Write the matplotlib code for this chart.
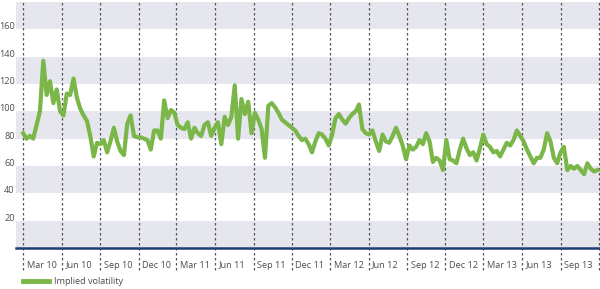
import matplotlib
matplotlib.use("Agg")
import matplotlib.pyplot as plt
import matplotlib.transforms as mtransforms
import pandas as pd
import numpy as np

plt.rcParams['font.family'] = ['Open Sans', 'DejaVu Sans']

# ---- data -------------------------------------------------------------
start_date = "2010-03-01"
step = "8D"
implied_vol = [
    84, 80, 82, 80, 90, 100, 137, 112, 122, 106,
    116, 100, 97, 113, 112, 124, 110, 102, 97, 93,
    82, 67, 77, 76, 79, 70, 78, 88, 78, 71,
    68, 91, 97, 82, 81, 81, 80, 79, 72, 86,
    86, 80, 108, 95, 101, 99, 90, 88, 87, 92,
    80, 88, 84, 82, 90, 92, 82, 88, 92, 76,
    96, 90, 96, 119, 80, 109, 98, 107, 84, 99,
    94, 87, 66, 104, 106, 103, 99, 94, 92, 90,
    88, 86, 82, 79, 80, 76, 70, 78, 84, 83,
    80, 75, 83, 95, 98, 94, 91, 95, 98, 100,
    105, 87, 84, 83, 86, 78, 71, 83, 78, 77,
    82, 88, 82, 75, 65, 75, 72, 74, 79, 76,
    84, 78, 63, 66, 64, 57, 79, 65, 64, 62,
    72, 80, 73, 68, 70, 64, 73, 83, 76, 74,
    70, 71, 67, 72, 77, 75, 79, 86, 82, 78,
    72, 67, 62, 66, 66, 72, 84, 78, 66, 62,
    70, 74, 57, 60, 58, 60, 57, 54, 62, 58,
    56, 57,
]
series_label = "Implied volatility"
tick_dates = ["2010-03-01", "2010-06-01", "2010-09-01", "2010-12-01",
              "2011-03-01", "2011-06-01", "2011-09-01", "2011-12-01",
              "2012-03-01", "2012-06-01", "2012-09-01", "2012-12-01",
              "2013-03-01", "2013-06-01", "2013-09-01", "2013-12-01"]
tick_labels = ["Mar 10", "Jun 10", "Sep 10", "Dec 10",
               "Mar 11", "Jun 11", "Sep 11", "Dec 11",
               "Mar 12", "Jun 12", "Sep 12", "Dec 12",
               "Mar 13", "Jun 13", "Sep 13", ""]
y_ticks = [20, 40, 60, 80, 100, 120, 140, 160]

# ---- figure -----------------------------------------------------------
W, H, DPI = 600, 289, 100
fig = plt.figure(figsize=(W / DPI, H / DPI), dpi=DPI)
ax = fig.add_axes([16 / W, 1 - 248 / H, 584 / W, 246 / H])

dates = pd.date_range(start_date, periods=len(implied_vol), freq=step)
tdates = pd.to_datetime(tick_dates)

band_color = "#e6e6ef"
for lo in range(0, 180, 40):
    ax.axhspan(lo, lo + 20, color=band_color, lw=0, zorder=0)

for d in tdates:
    ax.axvline(d, ymin=-0.09, ymax=1, color="#555555", lw=0.9,
               ls=(0, (2, 2)), clip_on=False, zorder=1)

line, = ax.plot(dates, implied_vol, color="#7ab648", lw=3.0,
                solid_joinstyle="round", zorder=3, label=series_label)

ax.set_xlim(pd.Timestamp("2010-02-12"), pd.Timestamp("2013-12-04"))
ax.set_ylim(0, 180)

FS = 6.6
ax.set_yticks(y_ticks)
ax.set_yticklabels([str(v) for v in y_ticks])
ax.tick_params(axis="y", length=0, pad=1, labelsize=FS, labelcolor="#4d4d4d")
for lab in ax.get_yticklabels():
    lab.set_transform(lab.get_transform() +
                      mtransforms.ScaledTranslation(0, 2.5 / 72, fig.dpi_scale_trans))

ax.set_xticks(tdates)
ax.set_xticklabels(tick_labels)
ax.tick_params(axis="x", length=0, pad=9, labelsize=FS, labelcolor="#4d4d4d")
for lab in ax.get_xticklabels():
    lab.set_horizontalalignment("left")
    lab.set_transform(lab.get_transform() +
                      mtransforms.ScaledTranslation(2.5 / 72, 0, fig.dpi_scale_trans))

for s in ["left", "right", "top"]:
    ax.spines[s].set_visible(False)
ax.spines["bottom"].set_color("#1c3f73")
ax.spines["bottom"].set_linewidth(1.8)
ax.spines["bottom"].set_zorder(4)
ax.grid(False)

fig.legend(handles=[line], loc="center left",
           bbox_to_anchor=(23 / W, 1 - 282 / H), frameon=False,
           fontsize=FS, handlelength=2.8, handletextpad=0.6,
           borderpad=0, borderaxespad=0, labelcolor="#4d4d4d")
for h in fig.legends[0].legend_handles:
    h.set_linewidth(3.5)

fig.savefig("out.png", dpi=DPI)
